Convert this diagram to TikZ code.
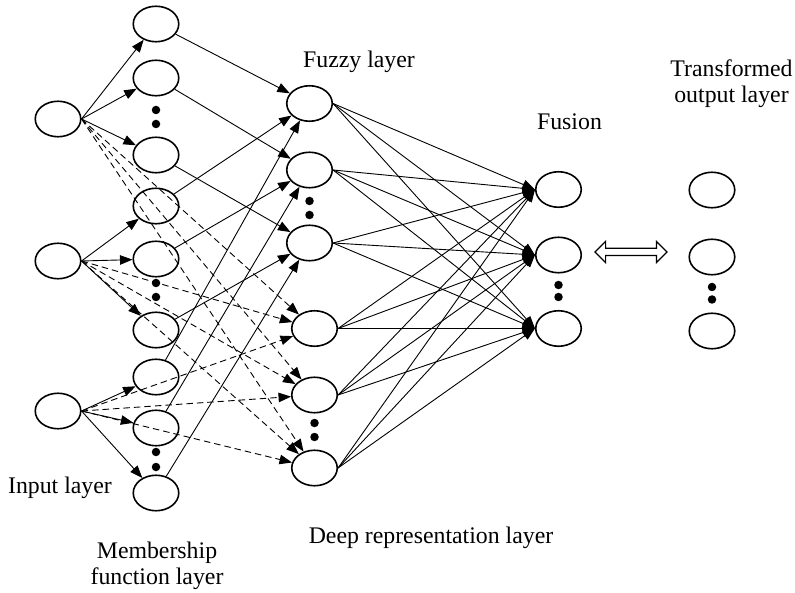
\documentclass[tikz,border=0pt]{standalone}
\usepackage{fontspec}
\setmainfont{Liberation Serif}
\usetikzlibrary{arrows.meta,shapes.geometric,shapes.arrows,calc}
\begin{document}
\begin{tikzpicture}[x=1pt,y=-1pt,
  neuron/.style={draw, ellipse, line width=1.6pt, minimum width=45.5pt, minimum height=35.5pt, inner sep=0pt},
  dotnode/.style={circle, fill=black, inner sep=0pt, minimum size=8.5pt},
  link/.style={line width=0.9pt, -{Triangle[length=12.5pt,width=9.5pt]}},
  dlink/.style={link, dash pattern=on 6.5pt off 4pt},
  lbl/.style={font=\fontsize{23.8}{26}\selectfont, inner sep=0pt, align=center},
  bigarrow/.style={draw, double arrow, line width=1.2pt, inner xsep=0pt, inner ysep=3pt, double arrow head extend=7pt, minimum height=72pt}
]
\useasboundingbox (0,0) rectangle (795,593);

% input layer
\node[neuron] (I1) at (58,119) {};
\node[neuron] (I2) at (58,261) {};
\node[neuron] (I3) at (58,411) {};

% membership function layer
\node[neuron] (M1) at (156,24) {};
\node[neuron] (M2) at (156,78) {};
\node[dotnode] (dm1) at (156,110) {};
\node[dotnode] (dm2) at (156,124) {};
\node[neuron] (M3) at (156,155) {};
\node[neuron] (M4) at (156,206) {};
\node[neuron] (M5) at (156,259) {};
\node[dotnode] (dm3) at (156,283) {};
\node[dotnode] (dm4) at (156,297) {};
\node[neuron] (M6) at (156,330) {};
\node[neuron] (M7) at (156,377) {};
\node[neuron] (M8) at (156,428) {};
\node[dotnode] (dm5) at (156,452) {};
\node[dotnode] (dm6) at (156,467) {};
\node[neuron] (M9) at (156,493) {};

% fuzzy layer
\node[neuron] (F1) at (309.5,103.5) {};
\node[neuron] (F2) at (309.5,170) {};
\node[dotnode] (df1) at (309.5,201) {};
\node[dotnode] (df2) at (309.5,215) {};
\node[neuron] (F3) at (309.5,243) {};

% deep representation layer
\node[neuron] (D1) at (314.5,328.5) {};
\node[neuron] (D2) at (314.5,395) {};
\node[dotnode] (dd1) at (314.5,423) {};
\node[dotnode] (dd2) at (314.5,437) {};
\node[neuron] (D3) at (314.5,468) {};

% fusion
\node[neuron] (U1) at (558.5,189.5) {};
\node[neuron] (U2) at (558.5,255) {};
\node[dotnode] (du1) at (558.5,285) {};
\node[dotnode] (du2) at (558.5,297) {};
\node[neuron] (U3) at (558.5,328.5) {};

% transformed output layer
\node[neuron] (O1) at (712,190) {};
\node[neuron] (O2) at (712,257) {};
\node[dotnode] (do1) at (712,287) {};
\node[dotnode] (do2) at (712,299.5) {};
\node[neuron] (O3) at (712,331) {};

% labels
\node[lbl, anchor=base] (lfuzzy) at (359,68) {Fuzzy layer};
\node[lbl, anchor=base] (lfusion) at (569.5,130) {Fusion};
\node[lbl] (lout) at (731.5,84) {Transformed\\output layer};
\node[lbl, anchor=base] (linput) at (60,493) {Input layer};
\node[lbl] (lmem) at (157,565.5) {Membership\\function layer};
\node[lbl, anchor=base] (ldeep) at (431,543) {Deep representation layer};

% input -> membership
\foreach \i/\a/\b/\c in {1/1/2/3, 2/4/5/6, 3/7/8/9} {
  \draw[link] (I\i.east) -- (M\a);
  \draw[link] (I\i.east) -- (M\b);
  \draw[link] (I\i.east) -- (M\c);
}
% input -> deep (dashed)
\foreach \i in {1,2,3} {
  \foreach \j in {1,2,3} {
    \draw[dlink] (I\i.east) -- (D\j);
  }
}
% membership -> fuzzy
\foreach \m/\f in {1/1,2/2,3/3,4/1,5/2,6/3,7/1,8/2,9/3} {
  \draw[link] (M\m) -- (F\f);
}
% fuzzy & deep -> fusion
\foreach \s in {F1,F2,F3,D1,D2,D3} {
  \foreach \u in {U1,U2,U3} {
    \draw[link] (\s.east) -- (\u.west);
  }
}
% fusion <-> output
\node[bigarrow] (dbl) at ($(U2.east)!0.46!(O2.west)+(0,-4)$) {};
\end{tikzpicture}
\end{document}
